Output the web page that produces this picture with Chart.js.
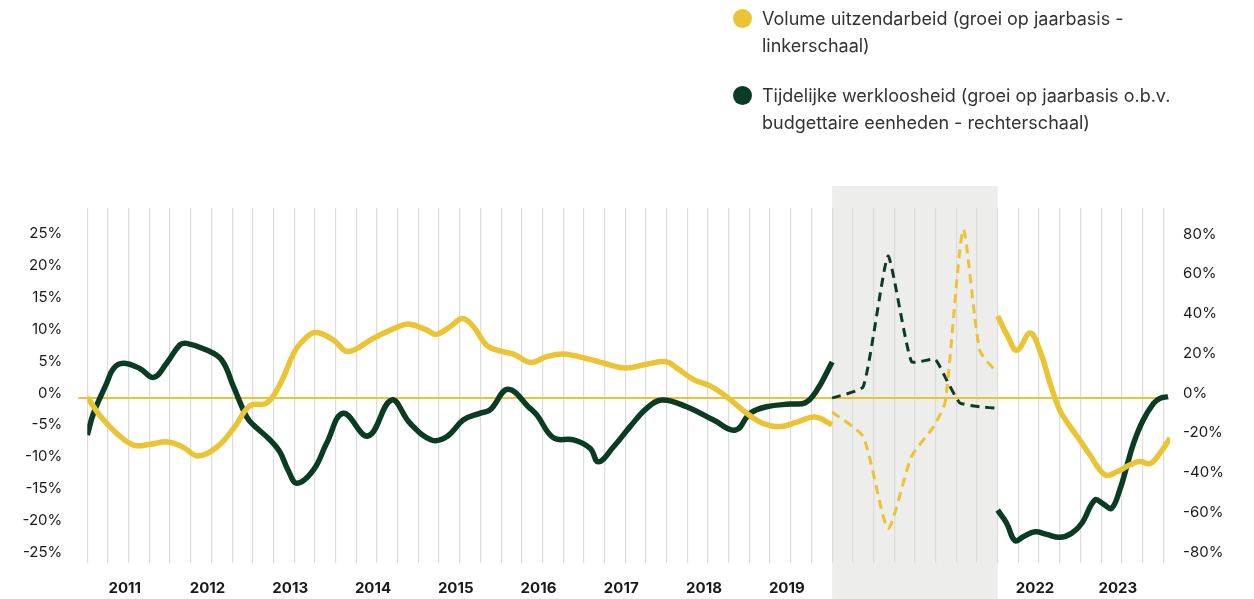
<!DOCTYPE html>
<html>
<head>
<meta charset="utf-8">
<script src="https://cdn.jsdelivr.net/npm/chart.js@4"></script>
<style>
  html, body { margin: 0; padding: 0; background: #ffffff; }
  #wrap { position: relative; width: 1254px; height: 599px; overflow: hidden; font-family: Inter, "Noto Sans", sans-serif; }
  #chart { position: absolute; left: 0; top: 0; }
  .item { position: absolute; left: 733px; }
  .dot { position: absolute; left: 0; width: 19px; height: 19px; border-radius: 50%; }
  .txt { position: absolute; left: 29px; white-space: nowrap; font-size: 18px; line-height: 27px; color: #333333; }
</style>
</head>
<body>
<div id="wrap">
  <canvas id="chart" width="1254" height="599"></canvas>
  <div class="item" style="top:5px;">
    <span class="dot" style="top:4px; background:#EAC435;"></span>
    <span class="txt" id="lg1"></span>
  </div>
  <div class="item" style="top:82px;">
    <span class="dot" style="top:4px; background:#0A3C23;"></span>
    <span class="txt" id="lg2"></span>
  </div>
</div>
<script>
// ---- data (x = months since start of Q4 2010) ----
const volumeMonths = [0,2,4.3,6.7,9,11.7,14,16,18.8,21.2,23.6,26,28,29.9,31,33,35.7,37.8,41.5,45.3,46.8,49.2,50.6,52.6,54.4,56,57.9,59.8,61.8,64.3,66.6,69,72.4,74.8,78,81.1,83.9,85.5,87.9,90.3,92.7,95.6,98,100.4,102.9,105.5,108,120,132,133.5,134.8,136.7,138.1,139.6,141,142.5,143.9,145.4,147.6,149.3,151.2,152.6,154.1,155.5,157];
const volumeGrowth = [0.1,-3.0,-5.6,-7.4,-7.3,-6.9,-7.8,-9.1,-7.7,-4.8,-1.2,-0.8,2.3,7.0,8.7,10.3,9.1,7.3,9.4,11.3,11.6,10.7,10.0,11.2,12.5,11.2,8.3,7.4,6.9,5.6,6.5,6.9,6.2,5.5,4.7,5.3,5.7,4.7,2.9,1.9,0.2,-2.4,-4.0,-4.5,-3.8,-3.0,-4.2,null,12.9,9.6,7.5,10.2,7.5,2.3,-1.9,-4.5,-6.6,-9.0,-12.1,-11.6,-10.5,-10.0,-10.3,-8.7,-6.3];

const tempMonths = [0,0.9,2.8,3.8,5.2,7.6,9.6,11.5,13.4,14.4,17.3,19.5,21.2,23.1,24.1,26.5,27.9,29.1,30.4,32.8,34.7,37.1,40.7,44.1,46.8,49.9,52.1,54.5,56.9,58.4,61,64.2,65.2,67.6,70.5,72.9,74.1,76.3,78.7,81.1,83.3,86.9,90.8,94,96.1,98.5,101.9,104.1,105.8,108,120,132,133.3,134.5,135.7,137.4,139.1,141,142.7,144.2,146.1,147.3,148.5,149.7,150.7,151.7,153.1,154.6,155.5,156.7];
const tempGrowth = [-18.6,-7.7,7.4,14.9,17.5,14.9,10.4,17.5,26.7,27.5,24.2,19.1,5.7,-9.4,-13.6,-21.1,-27.0,-36.2,-42.9,-36.2,-22.8,-7.7,-19.1,-1.0,-12.7,-21.1,-19.5,-11.1,-7.7,-6.0,4.4,-5.2,-8.6,-20.0,-21.1,-25.3,-32.1,-24.5,-14.4,-5.2,-1.0,-4.4,-11.1,-16.1,-7.7,-4.4,-3.0,-2.4,4.0,18.1,null,-56.4,-63.0,-71.8,-69.8,-67.3,-68.6,-70.1,-68.1,-63.0,-51.3,-53.3,-55.5,-46.3,-34.6,-22.8,-11.1,-2.7,-0.2,0.7];

// covid period (scaled, dashed)
const volumeCovidMonths = [108,112.5,116.1,119.5,122.7,124.4,127,129.4,131.8];
const volumeCovid = [-2.2,-6.1,-20.5,-9.2,-4.5,-0.6,26.5,7.5,4.1];
const tempCovidMonths = [108,112.5,116.1,119.5,122.9,124.6,126.5,129.4,132.1];
const tempCovid = [0,5.7,71.4,18.3,19.5,9.1,-2.4,-4.4,-5.2];

const covidFrom = 108, covidTo = 132;

// ---- ticks / labels ----
const leftTicks = [25,20,15,10,5,0,-5,-10,-15,-20,-25];
const rightTicks = [80,60,40,20,0,-20,-40,-60,-80];
const yearLabels = ['2011','2012','2013','2014','2015','2016','2017','2018','2019','','','2022','2023'];
const legendLabels = [
  ['Volume uitzendarbeid (groei op jaarbasis -', 'linkerschaal)'],
  ['Tijdelijke werkloosheid (groei op jaarbasis o.b.v.', 'budgettaire eenheden - rechterschaal)']
];

const YELLOW = '#EAC435';
const GREEN = '#0A3C23';
const FONT = 'Inter, "Noto Sans", sans-serif';

document.getElementById('lg1').innerHTML = legendLabels[0].join('<br>');
document.getElementById('lg2').innerHTML = legendLabels[1].join('<br>');

const pts = (xs, ys) => xs.map((x, i) => ({x: x, y: ys[i]}));
const gridMonths = [];
for (let m = 0; m <= 156; m += 3) gridMonths.push(m);

const covidBox = {
  id: 'covidBox',
  beforeDraw(chart) {
    const {ctx, chartArea, scales} = chart;
    const x0 = scales.x.getPixelForValue(covidFrom);
    const x1 = scales.x.getPixelForValue(covidTo);
    ctx.save();
    ctx.fillStyle = '#EDEDEB';
    ctx.fillRect(x0, chartArea.top - 22, x1 - x0, chart.height - chartArea.top + 22);
    ctx.restore();
  }
};
const zeroLine = {
  id: 'zeroLine',
  beforeDatasetsDraw(chart) {
    const {ctx, chartArea, scales} = chart;
    const y = scales.yL.getPixelForValue(0);
    ctx.save();
    ctx.strokeStyle = YELLOW;
    ctx.lineWidth = 2;
    ctx.beginPath();
    ctx.moveTo(chartArea.left - 9, y);
    ctx.lineTo(chartArea.right - 2, y);
    ctx.stroke();
    ctx.restore();
  }
};

new Chart(document.getElementById('chart'), {
  type: 'line',
  data: {
    datasets: [
      { label: 'Volume uitzendarbeid', data: pts(volumeMonths, volumeGrowth), yAxisID: 'yL',
        borderColor: YELLOW, borderWidth: 5.5, tension: 0.4, spanGaps: false, order: 0 },
      { label: 'Tijdelijke werkloosheid', data: pts(tempMonths, tempGrowth), yAxisID: 'yR',
        borderColor: GREEN, borderWidth: 5.5, tension: 0.4, spanGaps: false, order: 1 },
      { label: 'Volume uitzendarbeid (covid)', data: pts(volumeCovidMonths, volumeCovid), yAxisID: 'yL',
        borderColor: YELLOW, borderWidth: 3, borderDash: [9, 6], tension: 0.2, order: 2 },
      { label: 'Tijdelijke werkloosheid (covid)', data: pts(tempCovidMonths, tempCovid), yAxisID: 'yR',
        borderColor: GREEN, borderWidth: 3, borderDash: [9, 6], tension: 0.15, order: 3 }
    ]
  },
  options: {
    responsive: false,
    animation: false,
    devicePixelRatio: 1,
    layout: { padding: { top: 208, left: 0, right: 0, bottom: 0 } },
    elements: { point: { radius: 0, hoverRadius: 0 } },
    plugins: { legend: { display: false }, tooltip: { enabled: false } },
    scales: {
      x: {
        type: 'linear', min: 0, max: 157,
        grid: { color: '#DCDCDC', lineWidth: 1.2, drawTicks: false },
        border: { display: false },
        ticks: {
          autoSkip: false, maxRotation: 0, minRotation: 0, padding: 16, labelOffset: -4,
          color: '#1a1a1a', font: { family: FONT, size: 15, weight: 'bold' },
          callback: (v) => (v % 12 === 6 ? yearLabels[(v - 6) / 12] : '')
        },
        afterBuildTicks: (s) => { s.ticks = gridMonths.map(v => ({value: v})); },
        afterFit: (s) => { s.height = 36; }
      },
      yL: {
        type: 'linear', position: 'left', min: -25.94, max: 29.87,
        grid: { display: false, drawTicks: false }, border: { display: false },
        ticks: { padding: 25, labelOffset: -5, color: '#1a1a1a', font: { family: FONT, size: 15 },
          callback: (v) => v + '%' },
        afterBuildTicks: (s) => { s.ticks = leftTicks.map(v => ({value: v})); },
        afterFit: (s) => { s.width = 87.3; }
      },
      yR: {
        type: 'linear', position: 'right', min: -83.0, max: 95.6,
        grid: { display: false, drawTicks: false }, border: { display: false },
        ticks: { padding: 13, labelOffset: -5, color: '#1a1a1a', font: { family: FONT, size: 15 },
          callback: (v) => v + '%' },
        afterBuildTicks: (s) => { s.ticks = rightTicks.map(v => ({value: v})); },
        afterFit: (s) => { s.width = 83.9; }
      }
    }
  },
  plugins: [covidBox, zeroLine]
});
</script>
</body>
</html>
